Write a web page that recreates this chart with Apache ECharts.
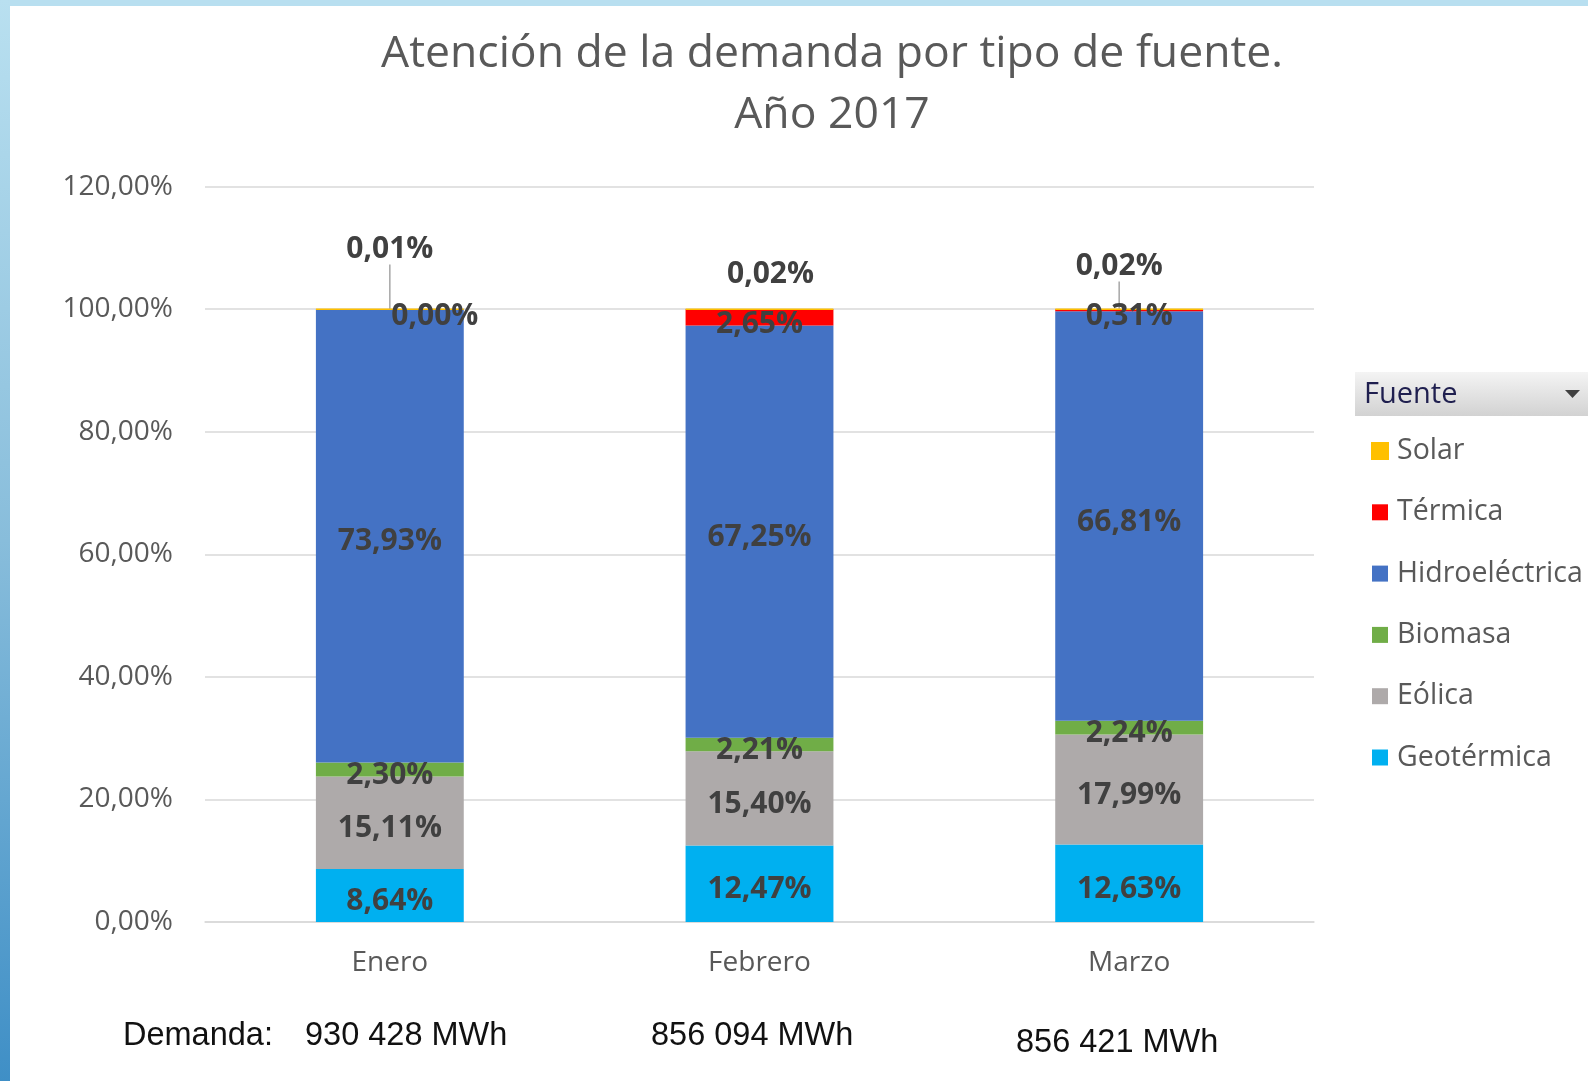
<!DOCTYPE html>
<html>
<head>
<meta charset="utf-8">
<script src="https://cdn.jsdelivr.net/npm/echarts@6/dist/echarts.min.js"></script>
<style>
html,body{margin:0;padding:0;background:#fff;}
#chart{width:1588px;height:1081px;}
</style>
</head>
<body>
<div id="chart"></div>
<script>
// ---- data ----
const months = ['Enero', 'Febrero', 'Marzo'];
const geotermica = [8.64, 12.47, 12.63];
const eolica = [15.11, 15.40, 17.99];
const biomasa = [2.30, 2.21, 2.24];
const hidroelectrica = [73.93, 67.25, 66.81];
const termica = [0.00, 2.65, 0.31];
const solar = [0.01, 0.02, 0.02];
const legendOrder = ['Solar', 'Térmica', 'Hidroeléctrica', 'Biomasa', 'Eólica', 'Geotérmica'];
const demandLabel = 'Demanda:';
const demandValues = ['930 428 MWh', '856 094 MWh', '856 421 MWh'];
const titleLines = ['Atención de la demanda por tipo de fuente.', 'Año 2017'];
const legendTitle = 'Fuente';
const yMin = 0, yMax = 120, yStep = 20;

// ---- chart ----
const chart = echarts.init(document.getElementById('chart'), null, {renderer: 'canvas'});
const pct = v => v.toFixed(2).replace('.', ',') + '%';
const labelFont = '"Open Sans", sans-serif';

const seriesDefs = [
  {name: 'Geotérmica', data: geotermica, color: '#00b0f0'},
  {name: 'Eólica', data: eolica, color: '#aeaaaa'},
  {name: 'Biomasa', data: biomasa, color: '#70ad47'},
  {name: 'Hidroeléctrica', data: hidroelectrica, color: '#4472c4'},
  {name: 'Térmica', data: termica, color: '#ff0000'},
  {name: 'Solar', data: solar, color: '#ffc000'}
];

const series = seriesDefs.map(s => {
  const base = {
    name: s.name,
    type: 'bar',
    stack: 'total',
    barCategoryGap: '60%',
    data: s.data,
    itemStyle: {color: s.color},
    label: {
      show: true,
      position: 'inside',
      formatter: p => pct(p.value),
      color: '#404040',
      fontFamily: labelFont,
      fontWeight: 'bold',
      fontSize: 30
    },
    labelLayout: () => ({dy: 6})
  };
  if (s.name === 'Solar') {
    base.itemStyle = {color: s.color, borderColor: s.color, borderWidth: 1.5};
    base.label.position = 'top';
    base.label.distance = 4;
    base.labelLine = {show: true, lineStyle: {color: '#a6a6a6', width: 1.5}};
    base.data = s.data.map((v, i) => i === 1 ? {value: v, labelLine: {show: false}} : v);
    base.labelLayout = p => {
      const shifts = [[0, -40], [11, -15], [-10, -23]];
      const d = shifts[p.dataIndex];
      return {dx: d[0], dy: d[1]};
    };
  }
  if (s.name === 'Térmica') {
    base.labelLayout = p => {
      const shifts = [[45, 7], [0, 7], [0, 6]];
      const d = shifts[p.dataIndex];
      return {dx: d[0], dy: d[1]};
    };
  }
  return base;
});

const demandFont = '32.5px "Liberation Sans", Arial, sans-serif';
const graphics = [
  // frame
  {type: 'rect', shape: {x: 0, y: 0, width: 1588, height: 6}, style: {fill: '#b8dff0'}, silent: true, z: 100},
  {type: 'rect', shape: {x: 0, y: 0, width: 10, height: 1081}, silent: true, z: 100,
    style: {fill: new echarts.graphic.LinearGradient(0, 0, 0, 1, [
      {offset: 0, color: '#b9e0f0'}, {offset: 0.5, color: '#88bddb'}, {offset: 1, color: '#3f8fc6'}])}},
  // legend header
  {type: 'rect', shape: {x: 1355, y: 372, width: 240, height: 44}, silent: true,
    style: {fill: new echarts.graphic.LinearGradient(0, 0, 0, 1, [
      {offset: 0, color: '#f4f4f4'}, {offset: 1, color: '#d2d2d2'}])}},
  {type: 'text', x: 1364, y: 395, silent: true,
    style: {text: legendTitle, fill: '#1f1f4f', font: '29px "Open Sans", sans-serif', textVerticalAlign: 'middle'}},
  {type: 'polygon', silent: true, shape: {points: [[1565, 390], [1580, 390], [1572.5, 398]]}, style: {fill: '#404040'}},
  // demand line
  {type: 'text', x: 123, y: 1036, silent: true,
    style: {text: demandLabel, fill: '#111', font: demandFont, textVerticalAlign: 'middle'}}
];
const demandPos = [[305, 1036], [651, 1036], [1016, 1043]];
demandValues.forEach((t, i) => {
  graphics.push({type: 'text', x: demandPos[i][0], y: demandPos[i][1], silent: true,
    style: {text: t, fill: '#111', font: demandFont, textVerticalAlign: 'middle'}});
});

chart.setOption({
  backgroundColor: '#ffffff',
  animation: false,
  title: {
    text: titleLines.join('\n'),
    left: 827,
    top: 19,
    textAlign: 'center',
    textStyle: {fontFamily: labelFont, fontWeight: 'normal', fontSize: 44.5, lineHeight: 61, color: '#595959'}
  },
  grid: {left: 205, right: 274, top: 186.7, bottom: 159, containLabel: false},
  legend: {
    data: legendOrder,
    orient: 'vertical',
    left: 1366,
    top: 431,
    icon: 'rect',
    itemWidth: 16,
    itemHeight: 16,
    itemGap: 31.3,
    textStyle: {fontFamily: labelFont, fontSize: 28.5, color: '#595959', lineHeight: 30, padding: [0, 0, 0, 4]},
    selectedMode: false
  },
  xAxis: {
    type: 'category',
    data: months,
    axisLine: {lineStyle: {color: '#d9d9d9', width: 1.5}},
    axisTick: {show: false},
    axisLabel: {color: '#595959', fontFamily: labelFont, fontSize: 28, margin: 27}
  },
  yAxis: {
    type: 'value',
    min: yMin,
    max: yMax,
    interval: yStep,
    axisLine: {show: false},
    axisTick: {show: false},
    splitLine: {lineStyle: {color: '#d9d9d9', width: 1.5}},
    axisLabel: {color: '#595959', fontFamily: labelFont, fontSize: 28, margin: 32, formatter: v => pct(v)}
  },
  series: series,
  graphic: graphics
});
</script>
</body>
</html>
